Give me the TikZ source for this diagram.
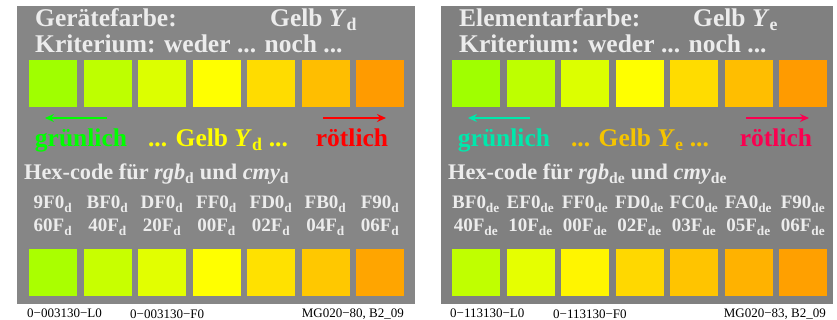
\documentclass[tikz,border=0pt]{standalone}
\usepackage{fontspec}
\setmainfont{Liberation Serif}
\usetikzlibrary{arrows.meta}
\definecolor{panelL}{RGB}{134,134,134}
\definecolor{panelR}{RGB}{128,128,128}
\definecolor{txt}{RGB}{236,236,236}
\definecolor{gruenD}{RGB}{0,255,0}
\definecolor{rotD}{RGB}{255,0,0}
\definecolor{gelbD}{RGB}{255,255,0}
\definecolor{gruenE}{RGB}{0,232,172}
\definecolor{rotE}{RGB}{250,0,80}
\definecolor{gelbE}{RGB}{245,196,0}
\begin{document}
\begin{tikzpicture}[x=1pt,y=-1pt,
    panelhead/.style={anchor=base west,inner sep=0,text=txt,font=\fontsize{25.5}{25.5}\selectfont\bfseries},
    hexline/.style={anchor=base west,inner sep=0,text=txt,font=\fontsize{22.3}{22.3}\selectfont\bfseries},
    hexcode/.style={anchor=base,inner sep=0,text=txt,font=\fontsize{19}{19}\selectfont\bfseries},
    swatch/.style={anchor=north west,inner sep=0,minimum width=48,minimum height=47},
    hue/.style={anchor=base,inner sep=0,font=\fontsize{25.5}{25.5}\selectfont\bfseries},
    dir/.style={-{Stealth[length=9pt,width=8pt,inset=3pt]},line width=2pt},
    foot/.style={anchor=base west,inner sep=0,font=\fontsize{13}{13}\selectfont}]
  \useasboundingbox (0,0) rectangle (837,320);
  \fill[white] (0,0) rectangle (837,320);
  % panels
  \fill[panelL] (17,6) rectangle (415,304);
  \fill[panelR] (441,6) rectangle (833,304);

  % left panel: Geraetefarbe
  \node[panelhead] (tL1) at (35,27) {Gerätefarbe:};
  \node[panelhead] (tL2) at (270,27) {Gelb \textit{Y}\textsubscript{d}};
  \node[panelhead] (tL3) at (35,53) {Kriterium: weder ... noch ...};
  \foreach \k/\top/\bot/\a/\b in {0/A0FF00/AAFF00/9F0/60F, 1/BEFF00/C8FF00/BF0/40F,
      2/DCFF00/E2FF00/DF0/20F, 3/FFFF00/FFFF00/FF0/00F, 4/FFDC00/FFE100/FD0/02F,
      5/FFBE00/FFC800/FB0/04F, 6/FF9B00/FFA500/F90/06F} {
    \definecolor{sqtop}{HTML}{\top}
    \definecolor{sqbot}{HTML}{\bot}
    \node[swatch,fill=sqtop] (dT\k) at (29+54.5*\k,60) {};
    \node[swatch,fill=sqbot] (dB\k) at (29+54.5*\k,249) {};
    \node[hexcode] (dA\k) at (53+54.5*\k,209) {\a\textsubscript{d}};
    \node[hexcode] (dC\k) at (53+54.5*\k,232) {\b\textsubscript{d}};
  }
  \coordinate (gL0) at (107,118);
  \coordinate (gL1) at (45,118);
  \coordinate (rL0) at (323,118);
  \coordinate (rL1) at (386,118);
  \draw[dir,gruenD] (gL0) -- (gL1);
  \draw[dir,rotD] (rL0) -- (rL1);
  \node[hue,text=gruenD] (hL1) at (81,147) {grünlich};
  \node[hue,text=gelbD] (hL2) at (218,147) {... Gelb \textit{Y}\textsubscript{d} ...};
  \node[hue,text=rotD] (hL3) at (352,147) {rötlich};
  \node[hexline] (xL) at (24,180) {Hex-code für \textit{rgb}\textsubscript{d} und \textit{cmy}\textsubscript{d}};
  \node[foot] (fL1) at (27,317) {0−003130−L0};
  \node[foot] (fL2) at (130,318) {0−003130−F0};
  \node[foot,anchor=base east] (fL3) at (404,317) {MG020−80, B2\_09};

  % right panel: Elementarfarbe
  \node[panelhead] (tR1) at (459,27) {Elementarfarbe:};
  \node[panelhead] (tR2) at (693,27) {Gelb \textit{Y}\textsubscript{e}};
  \node[panelhead] (tR3) at (459,53) {Kriterium: weder ... noch ...};
  \foreach \k/\top/\bot/\a/\b in {0/A0FF00/C0FF00/BF0/40F, 1/BEFF00/E6FF00/EF0/10F,
      2/DCFF00/FFF500/FF0/00F, 3/FFFF00/FFD800/FD0/02F, 4/FFDC00/FFC400/FC0/03F,
      5/FFBE00/FFB200/FA0/05F, 6/FF9B00/FFA000/F90/06F} {
    \definecolor{sqtop}{HTML}{\top}
    \definecolor{sqbot}{HTML}{\bot}
    \node[swatch,fill=sqtop] (eT\k) at (452+54.5*\k,60) {};
    \node[swatch,fill=sqbot] (eB\k) at (452+54.5*\k,249) {};
    \node[hexcode] (eA\k) at (476+54.5*\k,209) {\a\textsubscript{de}};
    \node[hexcode] (eC\k) at (476+54.5*\k,232) {\b\textsubscript{de}};
  }
  \coordinate (gR0) at (530,118);
  \coordinate (gR1) at (468,118);
  \coordinate (rR0) at (746,118);
  \coordinate (rR1) at (809,118);
  \draw[dir,gruenE] (gR0) -- (gR1);
  \draw[dir,rotE] (rR0) -- (rR1);
  \node[hue,text=gruenE] (hR1) at (504,147) {grünlich};
  \node[hue,text=gelbE] (hR2) at (640,147) {... Gelb \textit{Y}\textsubscript{e} ...};
  \node[hue,text=rotE] (hR3) at (776,147) {rötlich};
  \node[hexline] (xR) at (448,180) {Hex-code für \textit{rgb}\textsubscript{de} und \textit{cmy}\textsubscript{de}};
  \node[foot] (fR1) at (450,317) {0−113130−L0};
  \node[foot] (fR2) at (553,318) {0−113130−F0};
  \node[foot,anchor=base east] (fR3) at (826,317) {MG020−83, B2\_09};
\end{tikzpicture}
\end{document}
